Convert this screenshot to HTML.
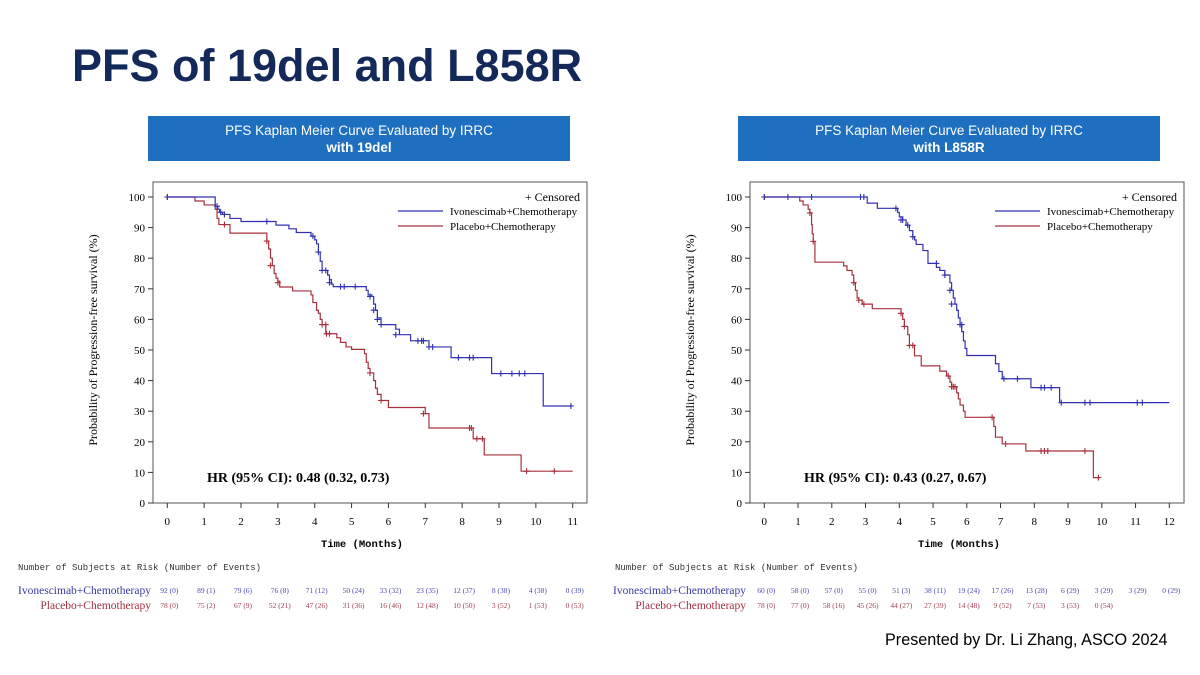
<!DOCTYPE html>
<html><head><meta charset="utf-8">
<style>
body{margin:0;width:1200px;height:675px;background:#fff;overflow:hidden;position:relative;font-family:"Liberation Sans",sans-serif}
.title{position:absolute;left:72px;top:40px;font-size:45px;font-weight:bold;color:#12295a}
.box{position:absolute;top:116px;height:45px;width:422px;background:#1f6fc0;color:#fff;text-align:center;font-size:13.5px;line-height:17px;padding-top:6px;box-sizing:border-box}
.box b{display:block}
.foot{position:absolute;left:885px;top:631px;font-size:16.2px;color:#000}
svg{position:absolute;left:0;top:0}
</style></head><body>
<div class="title">PFS of 19del and L858R</div>
<div class="box" style="left:148px">PFS Kaplan Meier Curve Evaluated by IRRC<b>with 19del</b></div>
<div class="box" style="left:738px">PFS Kaplan Meier Curve Evaluated by IRRC<b>with L858R</b></div>
<div class="foot">Presented by Dr. Li Zhang, ASCO 2024</div>
<svg id="s" width="1200" height="675"></svg>
<script>
const yTicks=[0,10,20,30,40,50,60,70,80,90,100];
// Left (19del)
const L_ivo=[[0,100],[1.3,97],[1.37,96],[1.42,95],[1.5,94.3],[1.7,93],[2.0,92],[2.95,90.8],[3.3,89.6],[3.5,88.4],[3.9,87.2],[4.0,86],[4.05,84.7],[4.1,82],[4.15,79],[4.2,76],[4.35,74.5],[4.4,73],[4.45,71.5],[4.5,70.7],[5.4,69.5],[5.45,68],[5.55,67.5],[5.6,65],[5.65,63],[5.7,60.5],[5.8,58.3],[6.2,56.8],[6.3,55],[6.6,53],[7.1,51],[7.7,47.5],[8.8,42.3],[10.2,31.7],[11.0,31.7]];
const L_ivoC=[[0,100],[1.35,97],[1.45,95],[1.55,94.3],[2.7,92],[3.95,87.2],[4.1,82],[4.2,76],[4.3,76],[4.4,72],[4.7,70.7],[4.8,70.7],[5.1,70.7],[5.5,67.5],[5.6,63],[5.7,60],[5.8,58.3],[6.2,55],[6.8,53],[6.9,53],[6.95,53],[7.1,51],[7.2,51],[7.9,47.5],[8.2,47.5],[8.3,47.5],[9.05,42.3],[9.35,42.3],[9.55,42.3],[9.7,42.3],[10.95,31.7]];
const L_pla=[[0,100],[0.75,98.7],[1.0,97.4],[1.3,96],[1.35,93],[1.4,91],[1.7,88.2],[2.7,85.6],[2.75,83],[2.8,80],[2.85,77.6],[2.9,75],[2.95,73.5],[3.0,72.5],[3.05,70.6],[3.4,69.3],[3.9,68],[3.95,65.5],[4.05,63],[4.1,62],[4.15,60],[4.2,58.3],[4.3,55.3],[4.6,54],[4.7,52.5],[4.85,51],[5.0,50.2],[5.35,48.8],[5.4,46],[5.45,44],[5.5,42.5],[5.6,40],[5.65,37.5],[5.7,35.5],[5.8,33.5],[6.0,31.2],[7.0,29.2],[7.1,24.5],[8.3,21],[8.6,15.7],[9.6,10.4],[11.0,10.4]];
const L_plaC=[[0,100],[1.55,91],[2.7,85.6],[2.8,77.6],[3.0,72],[4.2,58.3],[4.3,58.3],[4.32,55.3],[4.4,55.3],[5.5,42.5],[5.8,33.5],[6.95,29.2],[8.2,24.5],[8.25,24.5],[8.4,21],[8.55,21],[9.75,10.4],[10.5,10.4]];
const L_months=[0,1,2,3,4,5,6,7,8,9,10,11];
const L_riskIvo=["92 (0)","89 (1)","79 (6)","76 (8)","71 (12)","50 (24)","33 (32)","23 (35)","12 (37)","8 (38)","4 (38)","0 (39)"];
const L_riskPla=["78 (0)","75 (2)","67 (9)","52 (21)","47 (26)","31 (36)","16 (46)","12 (48)","10 (50)","3 (52)","1 (53)","0 (53)"];
// Right (L858R)
const R_ivo=[[0,100],[3.05,98],[3.35,96.3],[3.95,95],[4.0,93.5],[4.1,92.5],[4.2,90.8],[4.3,89],[4.4,87],[4.45,86],[4.5,84.5],[4.7,82.5],[4.85,78.3],[5.1,77],[5.2,76],[5.35,74.5],[5.5,72],[5.55,69.5],[5.6,67],[5.65,65],[5.7,63],[5.75,60.5],[5.8,58.3],[5.85,56],[5.9,53],[5.95,50.5],[6.0,48.2],[6.85,45.5],[6.95,43],[7.05,40.6],[7.9,37.7],[8.75,32.8],[12,32.8]];
const R_ivoC=[[0,100],[0.7,100],[1.4,100],[2.85,100],[2.95,100],[3.9,96.3],[4.05,92.5],[4.1,92.5],[4.25,90.8],[4.4,87],[5.1,78.3],[5.35,74.5],[5.5,69.5],[5.55,65],[5.8,58.3],[5.85,58.3],[7.1,40.6],[7.5,40.6],[8.2,37.7],[8.3,37.7],[8.5,37.7],[8.8,32.8],[9.5,32.8],[9.65,32.8],[11.05,32.8],[11.2,32.8]];
const R_pla=[[0,100],[1.05,98.7],[1.15,97.4],[1.3,96],[1.35,94.8],[1.4,91],[1.42,88],[1.45,85.5],[1.5,78.7],[2.35,77.5],[2.45,76],[2.6,74.5],[2.65,72],[2.7,69.5],[2.75,67],[2.8,66.3],[2.9,65],[3.2,63.5],[4.05,62],[4.1,60],[4.15,57.7],[4.25,55],[4.3,51.5],[4.45,48.1],[4.65,44.8],[5.2,43.1],[5.4,41.5],[5.5,39.5],[5.55,38],[5.7,36],[5.75,34],[5.8,32],[5.9,30],[5.95,28],[6.8,25],[6.85,21.5],[7.05,19.3],[7.75,17],[9.75,8.3],[9.9,8.3]];
const R_plaC=[[0,100],[1.35,94.8],[1.45,85.5],[2.65,72],[2.8,66.3],[2.95,65],[4.05,62],[4.15,57.7],[4.3,51.5],[4.4,51.5],[5.45,41.5],[5.55,38],[5.6,38],[5.65,38],[6.75,28],[7.15,19.3],[8.2,17],[8.3,17],[8.4,17],[9.5,17],[9.9,8.3]];
const R_months=[0,1,2,3,4,5,6,7,8,9,10,11,12];
const R_riskIvo=["60 (0)","58 (0)","57 (0)","55 (0)","51 (3)","38 (11)","19 (24)","17 (26)","13 (28)","6 (29)","3 (29)","3 (29)","0 (29)"];
const R_riskPla=["78 (0)","77 (0)","58 (16)","45 (26)","44 (27)","27 (39)","14 (48)","9 (52)","7 (53)","3 (53)","0 (54)"];

const NS="http://www.w3.org/2000/svg", S=document.getElementById('s');
const BLUE="#3030b0", RED="#a8303c";
function mk(tag,at,txt){const e=document.createElementNS(NS,tag);for(const k in at)e.setAttribute(k,at[k]);if(txt!=null)e.textContent=txt;S.appendChild(e);return e;}
function chart(c){
  const {x0,x1,maxM,key,hr,ivo,ivoC,pla,plaC,months,rI,rP,fl,fr}=c;
  const y0=503,y1=197;
  const X=t=>x0+(x1-x0)*t/maxM, Y=v=>y0+(y1-y0)*v/100;
  let e=mk('rect',{x:fl,y:182,width:fr-fl,height:321,fill:'none',stroke:'#555','stroke-width':1});
  
  yTicks.forEach(v=>{mk('line',{x1:fl-5,x2:fl,y1:Y(v),y2:Y(v),stroke:'#333'});
    e=mk('text',{x:fl-8,y:Y(v)+4,'text-anchor':'end','font-family':'Liberation Serif','font-size':11},v);
    });
  months.forEach(m=>{mk('line',{x1:X(m),x2:X(m),y1:503,y2:508,stroke:'#333'});
    e=mk('text',{x:X(m),y:525,'text-anchor':'middle','font-family':'Liberation Serif','font-size':11},m);
    });
  e=mk('text',{x:(fl+fr)/2-8,y:547,'text-anchor':'middle','font-family':'Liberation Mono','font-size':10.5,'font-weight':'bold'},'Time (Months)');
  
  const cy=340,cx=fl-56;
  e=mk('text',{x:cx,y:cy,'text-anchor':'middle','font-family':'Liberation Serif','font-size':12,transform:`rotate(-90 ${cx} ${cy})`},'Probability of Progression-free survival (%)');
  
  function curve(d,col,name){let p=`M${X(d[0][0])},${Y(d[0][1])}`;for(let i=1;i<d.length;i++){p+=`H${X(d[i][0])}V${Y(d[i][1])}`;}
    const el=mk('path',{d:p,fill:'none',stroke:col,'stroke-width':1.2});}
  function cens(d,col,name){d.forEach(q=>{const el=mk('path',{d:`M${X(q[0])-3},${Y(q[1])}h6M${X(q[0])},${Y(q[1])-3}v6`,stroke:col,'stroke-width':1.1});
    });}
  curve(pla,RED,key+'-placebo-curve');curve(ivo,BLUE,key+'-ivonescimab-curve');
  cens(plaC,RED,key+'-placebo-censor');cens(ivoC,BLUE,key+'-ivonescimab-censor');
  const lx=fr-189;
  e=mk('text',{x:fr-7,y:201,'text-anchor':'end','font-family':'Liberation Serif','font-size':12},'+ Censored');
  
  mk('line',{x1:lx,x2:lx+45,y1:211,y2:211,stroke:BLUE,'stroke-width':1.2});
  e=mk('text',{x:lx+52,y:215,'font-family':'Liberation Serif','font-size':11},'Ivonescimab+Chemotherapy');
  
  mk('line',{x1:lx,x2:lx+45,y1:226,y2:226,stroke:RED,'stroke-width':1.2});
  e=mk('text',{x:lx+52,y:230,'font-family':'Liberation Serif','font-size':11},'Placebo+Chemotherapy');
  
  e=mk('text',{x:fl+54,y:482,'font-family':'Liberation Serif','font-size':14,'font-weight':'bold'},hr);
  
  const tx=c.tx;
  e=mk('text',{x:tx,y:570,'font-family':'Liberation Mono','font-size':9,fill:'#333'},'Number of Subjects at Risk (Number of Events)');
  
  e=mk('text',{x:c.lr,y:594,'text-anchor':'end','font-family':'Liberation Serif','font-size':11.5,fill:'#3a3aa0'},'Ivonescimab+Chemotherapy');
  
  e=mk('text',{x:c.lr,y:609,'text-anchor':'end','font-family':'Liberation Serif','font-size':11.5,fill:'#a03040'},'Placebo+Chemotherapy');
  
  rI.forEach((s,i)=>{const el=mk('text',{x:X(i)+2,y:593,'text-anchor':'middle','font-family':'Liberation Serif','font-size':7.5,fill:'#4a4ab0'},s);
    });
  rP.forEach((s,i)=>{const el=mk('text',{x:X(i)+2,y:608,'text-anchor':'middle','font-family':'Liberation Serif','font-size':7.5,fill:'#a04050'},s);
    });
}
chart({key:'del19',x0:167.3,x1:572.7,maxM:11,fl:153,fr:587,hr:'HR (95% CI): 0.48 (0.32, 0.73)',ivo:L_ivo,ivoC:L_ivoC,pla:L_pla,plaC:L_plaC,months:L_months,rI:L_riskIvo,rP:L_riskPla,tx:18,lr:151});
chart({key:'l858r',x0:764.3,x1:1169.3,maxM:12,fl:750,fr:1184,hr:'HR (95% CI): 0.43 (0.27, 0.67)',ivo:R_ivo,ivoC:R_ivoC,pla:R_pla,plaC:R_plaC,months:R_months,rI:R_riskIvo,rP:R_riskPla,tx:615,lr:746});
</script>
</body></html>
